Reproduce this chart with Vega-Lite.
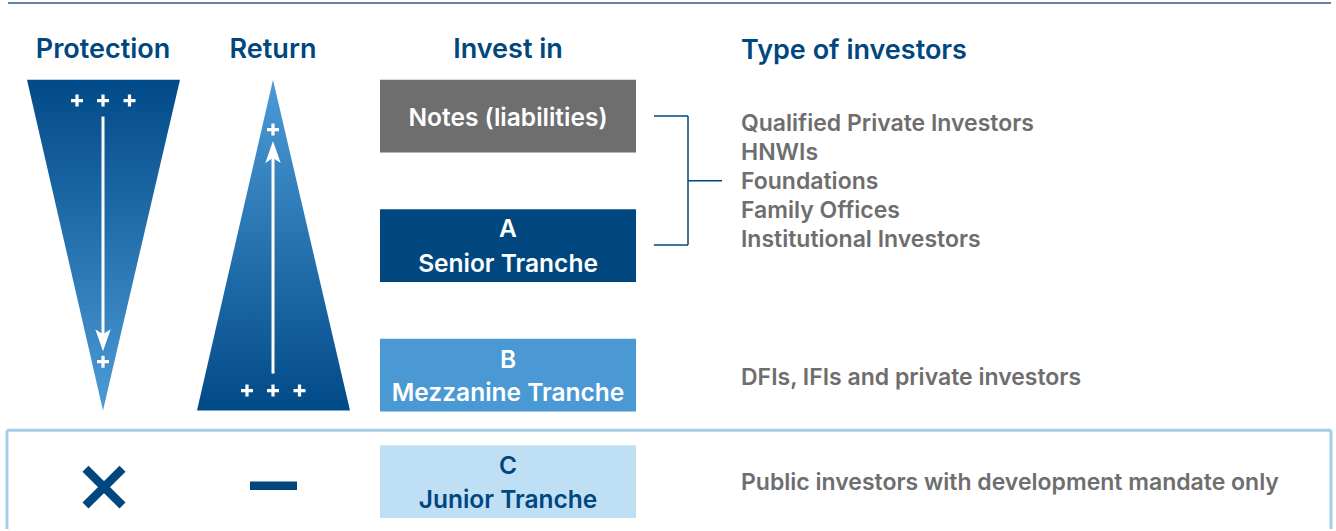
{
  "$schema": "https://vega.github.io/schema/vega-lite/v6.json",
  "width": 1336,
  "height": 531,
  "padding": 0,
  "autosize": {"type": "fit", "contains": "padding"},
  "background": "#ffffff",
  "config": {"view": {"stroke": null}},
  "datasets": {
    "topline": [{"x": 8, "x2": 1331, "y": 3}],
    "border": [
      {"x": 7, "x2": 1331, "y": 432, "y2": 432},
      {"x": 7, "x2": 7, "y": 432, "y2": 531},
      {"x": 1331, "x2": 1331, "y": 432, "y2": 531}
    ],
    "triP": [{"x": 27, "x2": 180, "y": 80}, {"x": 103, "x2": 103, "y": 412}],
    "triR": [{"x": 273, "x2": 273, "y": 80}, {"x": 197, "x2": 350, "y": 412}],
    "shafts": [{"x": 103, "y": 117, "y2": 336}, {"x": 273, "y": 375, "y2": 158}],
    "heads": [{"x": 103, "y": 341.5, "dir": "down"}, {"x": 273, "y": 152.5, "dir": "up"}],
    "plus": [
      {"x": 77, "y": 101}, {"x": 103, "y": 101}, {"x": 129.5, "y": 101},
      {"x": 103, "y": 363},
      {"x": 273, "y": 130},
      {"x": 247, "y": 392}, {"x": 273, "y": 392}, {"x": 299.5, "y": 392}
    ],
    "cross": [
      {"x": 85.5, "y": 470.5, "x2": 122.5, "y2": 507.5},
      {"x": 85.5, "y": 507.5, "x2": 122.5, "y2": 470.5},
      {"x": 250, "y": 487.5, "x2": 297, "y2": 487.5}
    ],
    "boxes": [
      {"tranche": "Notes", "x": 380, "x2": 636, "y": 80, "y2": 153},
      {"tranche": "A", "x": 380, "x2": 636, "y": 210, "y2": 283},
      {"tranche": "B", "x": 380, "x2": 636, "y": 340, "y2": 413},
      {"tranche": "C", "x": 380, "x2": 636, "y": 447, "y2": 520}
    ],
    "boxtext": [
      {"tranche": "Notes", "x": 508, "y": 126, "text": "Notes (liabilities)"},
      {"tranche": "A", "x": 508, "y": 238, "text": "A"},
      {"tranche": "A", "x": 508, "y": 273, "text": "Senior Tranche"},
      {"tranche": "B", "x": 508, "y": 369, "text": "B"},
      {"tranche": "B", "x": 508, "y": 403, "text": "Mezzanine Tranche"},
      {"tranche": "C", "x": 508, "y": 476, "text": "C"},
      {"tranche": "C", "x": 508, "y": 510, "text": "Junior Tranche"}
    ],
    "bracket": [
      {"x": 654, "x2": 688, "y": 116.5, "y2": 116.5},
      {"x": 688, "x2": 688, "y": 116.5, "y2": 246},
      {"x": 654, "x2": 688, "y": 246, "y2": 246},
      {"x": 688, "x2": 722, "y": 181.5, "y2": 181.5}
    ],
    "headersC": [
      {"x": 103, "y": 58, "text": "Protection"},
      {"x": 273, "y": 58, "text": "Return"},
      {"x": 508, "y": 58, "text": "Invest in"}
    ],
    "headersL": [{"x": 741, "y": 59, "text": "Type of investors"}],
    "investors": [
      {"x": 741, "y": 131, "text": "Qualified Private Investors"},
      {"x": 741, "y": 161, "text": "HNWIs"},
      {"x": 741, "y": 190, "text": "Foundations"},
      {"x": 741, "y": 219, "text": "Family Offices"},
      {"x": 741, "y": 248, "text": "Institutional Investors"},
      {"x": 741, "y": 386, "text": "DFIs, IFIs and private investors"},
      {"x": 741, "y": 492, "text": "Public investors with development mandate only"}
    ]
  },
  "encoding": {
    "x": {"field": "x", "type": "quantitative", "scale": {"domain": [0, 1336], "nice": false, "zero": false}, "axis": null},
    "y": {"field": "y", "type": "quantitative", "scale": {"domain": [0, 531], "nice": false, "zero": false, "reverse": true}, "axis": null}
  },
  "layer": [
    {
      "data": {"name": "topline"},
      "mark": {"type": "rule", "color": "#2f5b88", "strokeWidth": 1.5},
      "encoding": {"x2": {"field": "x2"}}
    },
    {
      "data": {"name": "border"},
      "mark": {"type": "rule", "color": "#a4cde9", "strokeWidth": 3},
      "encoding": {"x2": {"field": "x2"}, "y2": {"field": "y2"}}
    },
    {
      "data": {"name": "triP"},
      "mark": {"type": "area", "orient": "horizontal", "opacity": 1,
        "fill": {"gradient": "linear", "x1": 0, "y1": 0, "x2": 0, "y2": 1,
          "stops": [{"offset": 0, "color": "#004a87"}, {"offset": 1, "color": "#4c9bd7"}]}},
      "encoding": {"x2": {"field": "x2"}}
    },
    {
      "data": {"name": "triR"},
      "mark": {"type": "area", "orient": "horizontal", "opacity": 1,
        "fill": {"gradient": "linear", "x1": 0, "y1": 0, "x2": 0, "y2": 1,
          "stops": [{"offset": 0, "color": "#4c9bd7"}, {"offset": 1, "color": "#004a87"}]}},
      "encoding": {"x2": {"field": "x2"}}
    },
    {
      "data": {"name": "shafts"},
      "mark": {"type": "rule", "color": "#ffffff", "strokeWidth": 3},
      "encoding": {"y2": {"field": "y2"}}
    },
    {
      "data": {"name": "heads"},
      "mark": {"type": "point", "filled": true, "opacity": 1, "color": "#ffffff", "size": 484, "strokeWidth": 0},
      "encoding": {
        "shape": {"field": "dir", "type": "nominal", "legend": null,
          "scale": {"domain": ["down", "up"], "range": ["M-0.7,-1 L0,-0.55 L0.7,-1 L0,1 Z", "M-0.7,1 L0,0.55 L0.7,1 L0,-1 Z"]}}
      }
    },
    {
      "data": {"name": "plus"},
      "mark": {"type": "point", "filled": true, "opacity": 1, "color": "#ffffff", "size": 144, "strokeWidth": 0,
        "shape": "M-1,-0.27 L-0.27,-0.27 L-0.27,-1 L0.27,-1 L0.27,-0.27 L1,-0.27 L1,0.27 L0.27,0.27 L0.27,1 L-0.27,1 L-0.27,0.27 L-1,0.27 Z"}
    },
    {
      "data": {"name": "cross"},
      "mark": {"type": "rule", "color": "#00467f", "strokeWidth": 8.5, "strokeCap": "butt"},
      "encoding": {"x2": {"field": "x2"}, "y2": {"field": "y2"}}
    },
    {
      "data": {"name": "boxes"},
      "mark": {"type": "rect", "opacity": 1},
      "encoding": {
        "x2": {"field": "x2"}, "y2": {"field": "y2"},
        "fill": {"field": "tranche", "type": "nominal", "legend": null,
          "scale": {"domain": ["Notes", "A", "B", "C"], "range": ["#6e6e6e", "#00477f", "#4a98d4", "#bfdff5"]}}
      }
    },
    {
      "data": {"name": "boxtext"},
      "mark": {"type": "text", "align": "center", "baseline": "alphabetic", "font": "Inter", "fontWeight": 600, "fontSize": 24.5},
      "encoding": {
        "text": {"field": "text"},
        "color": {"field": "tranche", "type": "nominal", "legend": null,
          "scale": {"domain": ["Notes", "A", "B", "C"], "range": ["#ffffff", "#ffffff", "#ffffff", "#00477f"]}}
      }
    },
    {
      "data": {"name": "bracket"},
      "mark": {"type": "rule", "color": "#00477f", "strokeWidth": 1.5},
      "encoding": {"x2": {"field": "x2"}, "y2": {"field": "y2"}}
    },
    {
      "data": {"name": "headersC"},
      "mark": {"type": "text", "align": "center", "baseline": "alphabetic", "font": "Inter", "fontWeight": 600, "fontSize": 27, "color": "#00477f"},
      "encoding": {"text": {"field": "text"}}
    },
    {
      "data": {"name": "headersL"},
      "mark": {"type": "text", "align": "left", "baseline": "alphabetic", "font": "Inter", "fontWeight": 600, "fontSize": 27, "color": "#00477f"},
      "encoding": {"text": {"field": "text"}}
    },
    {
      "data": {"name": "investors"},
      "mark": {"type": "text", "align": "left", "baseline": "alphabetic", "font": "Inter", "fontWeight": 600, "fontSize": 23, "color": "#6e6e6e"},
      "encoding": {"text": {"field": "text"}}
    }
  ],
  "resolve": {"scale": {"color": "independent", "fill": "independent", "shape": "independent"}}
}
